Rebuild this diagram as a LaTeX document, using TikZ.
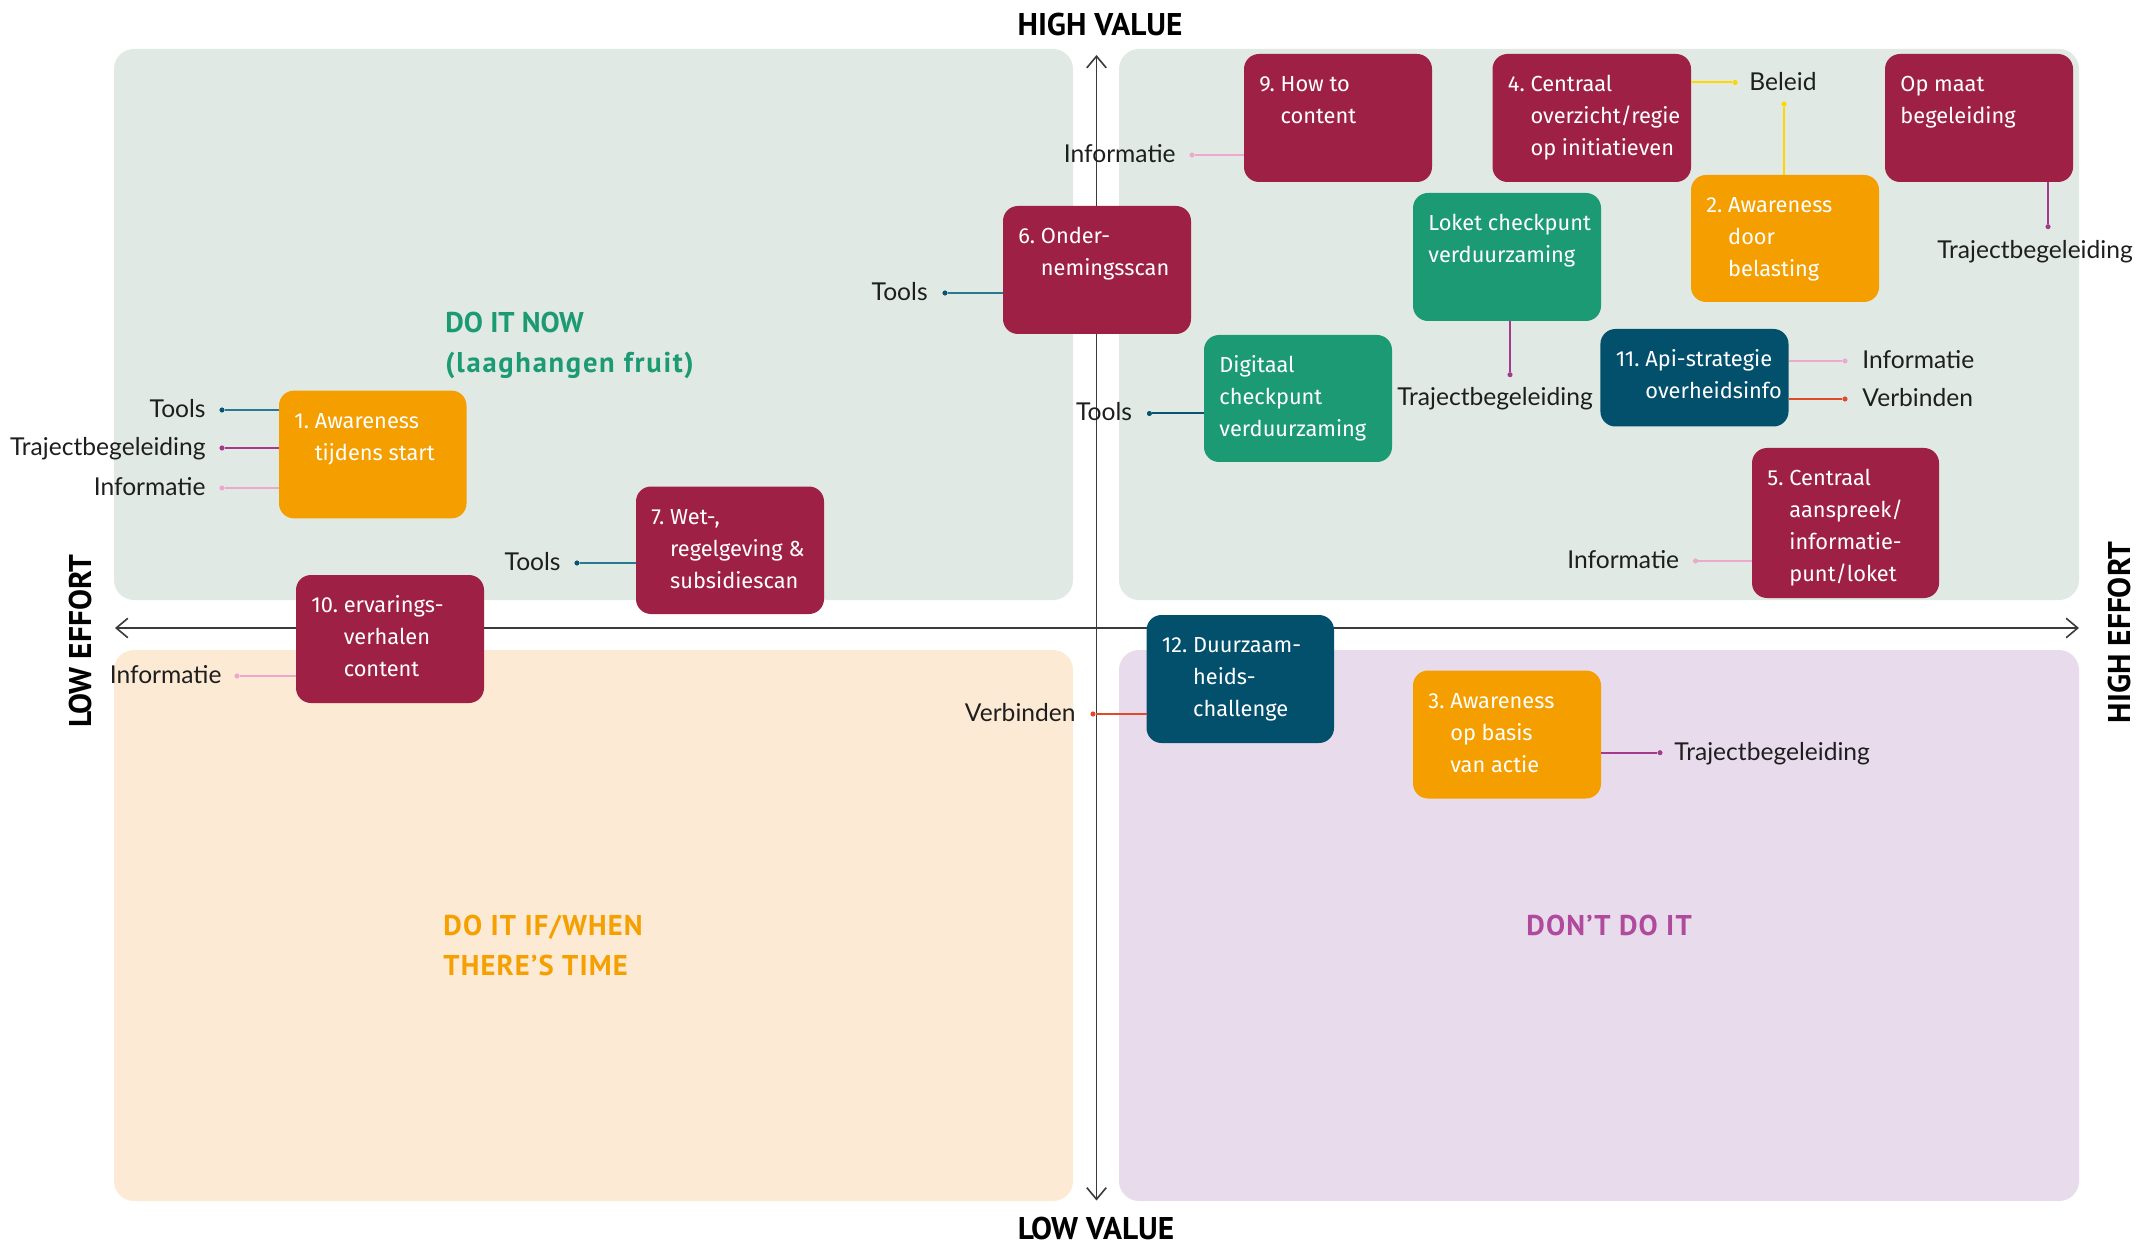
\documentclass[tikz,border=0pt]{standalone}
\usepackage{fontspec}
\usetikzlibrary{arrows.meta,calc}
\newfontfamily\boxfont{Fira Sans}
\newfontfamily\labfont{Lato}
\newfontfamily\headfont{PT Sans}
\newfontfamily\headwide[LetterSpace=6]{PT Sans}
\newfontfamily\headmid[LetterSpace=4]{PT Sans}
\definecolor{qgreen}{HTML}{E0E9E3}
\definecolor{qpeach}{HTML}{FDEAD5}
\definecolor{qlav}{HTML}{E8DCEC}
\definecolor{crimson}{HTML}{9E2145}
\definecolor{orng}{HTML}{F49E00}
\definecolor{grn}{HTML}{1B9A74}
\definecolor{teal}{HTML}{03506D}
\definecolor{tgreen}{HTML}{1B9A74}
\definecolor{torange}{HTML}{F5A000}
\definecolor{tpurple}{HTML}{B04A9C}
\definecolor{toolsc}{HTML}{2A7892}
\definecolor{toolsd}{HTML}{0B5470}
\definecolor{trajc}{HTML}{A43A8E}
\definecolor{infoc}{HTML}{EEA8CC}
\definecolor{verbc}{HTML}{E04A2A}
\definecolor{belc}{HTML}{FFD600}
\definecolor{labgray}{HTML}{1E1E1E}
\definecolor{axisgray}{HTML}{3A3A3A}
\newcommand\mkbox[6]{\node[tbox, fill=#6, minimum width={(#4-#2)*0.5pt}, minimum height={(#5-#3)*0.5pt}] (#1) at (#2,#3) {};}
\newcommand\btx[3]{\node[btxt] (#1) at ($(#2.north west)+(15,37.5)$) {#3};}
\tikzset{
  quad/.style={rounded corners=10pt},
  tbox/.style={rounded corners=7.5pt, draw=none, inner sep=0pt, outer sep=0pt, anchor=north west},
  btxt/.style={text=white, font=\boxfont\fontsize{10.9}{16}\selectfont, anchor=base west, inner sep=0pt},
  lab/.style={font=\labfont\fontsize{12.3}{15}\selectfont, text=labgray, inner sep=0pt},
  dotn/.style={circle, inner sep=0pt, minimum size=2.4pt},
  conn/.style={line width=1pt},
  axisl/.style={line width=0.8pt, draw=axisgray, {Straight Barb[length=5.8pt,width=9.7pt]}-{Straight Barb[length=5.8pt,width=9.7pt]}},
  axtitle/.style={font=\headfont\bfseries\fontsize{15.7}{18}\selectfont, text=black, inner sep=0pt, anchor=base},
  qtitle/.style={font=\headfont\bfseries\fontsize{14.3}{20}\selectfont, inner sep=0pt, anchor=base west},
}
\begin{document}
\begin{tikzpicture}[x=0.5pt,y=-0.5pt]
\useasboundingbox (0,0) rectangle (2155,1245);
\fill[white] (0,0) rectangle (2155,1245);
% quadrants
\fill[qgreen, quad] (114,49) rectangle (1073,600);
\fill[qgreen, quad] (1119,49) rectangle (2079,600);
\fill[qpeach, quad] (114,650) rectangle (1073,1201);
\fill[qlav, quad] (1119,650) rectangle (2079,1201);
% axes
\coordinate (vtop) at (1096.5,55);
\coordinate (vbot) at (1096.5,1200.5);
\coordinate (hleft) at (115,628);
\coordinate (hright) at (2079,628);
\draw[axisl] (vbot) -- (vtop);
\draw[axisl] (hleft) -- (hright);
% axis titles
\node[axtitle] (hv) at (1100,36) {HIGH VALUE};
\node[axtitle] (lv) at (1096,1239.5) {LOW VALUE};
\node[axtitle, rotate=90] (le) at (91.5,641) {LOW EFFORT};
\node[axtitle, rotate=90] (he) at (2130,632.5) {HIGH EFFORT};
% quadrant titles
\node[qtitle, text=tgreen] (qt1) at (445,333) {\begin{tabular}[t]{@{}l@{}}DO IT NOW\\{\headwide\bfseries(laaghangen fruit)}\end{tabular}};
\node[qtitle, text=torange] (qt3) at (443,935) {\headmid\bfseries\begin{tabular}[t]{@{}l@{}}DO IT IF/WHEN\\THERE’S TIME\end{tabular}};
\node[qtitle, text=tpurple] (qt4) at (1526,935) {\headmid\bfseries DON’T DO IT};
% boxes (shapes)
\mkbox{b1}{279}{390.6}{466.5}{518.4}{orng}
\mkbox{b6}{1003}{206}{1191}{334}{crimson}
\mkbox{b7}{636}{486.5}{824}{614}{crimson}
\mkbox{b10}{296}{575}{484}{703}{crimson}
\mkbox{b9}{1244}{54}{1432}{182}{crimson}
\mkbox{b4}{1492.5}{54}{1691}{182}{crimson}
\mkbox{bop}{1885}{54}{2073}{182}{crimson}
\mkbox{b2}{1691}{175}{1879}{302}{orng}
\mkbox{bl}{1413}{193}{1601}{321}{grn}
\mkbox{bd}{1204}{335}{1392}{462}{grn}
\mkbox{b11}{1600.4}{329}{1788.5}{426.5}{teal}
\mkbox{b5}{1752}{448}{1939}{598}{crimson}
\mkbox{b12}{1146.5}{615}{1334}{743}{teal}
\mkbox{b3}{1413}{670.5}{1601}{798.5}{orng}
% dots
\node[dotn, fill=toolsd] (d1a) at (222,410) {};
\node[dotn, fill=trajc] (d1b) at (222,448) {};
\node[dotn, fill=infoc] (d1c) at (222,488) {};
\node[dotn, fill=toolsd] (d6) at (945,293) {};
\node[dotn, fill=toolsd] (d7) at (577,563) {};
\node[dotn, fill=infoc] (d10) at (237,676) {};
\node[dotn, fill=infoc] (d9) at (1192,155) {};
\node[dotn, fill=toolsd] (dd) at (1149.4,413.5) {};
\node[dotn, fill=infoc] (d5) at (1695.5,561) {};
\node[dotn, fill=verbc] (d12) at (1093,714) {};
\node[dotn, fill=belc] (d4) at (1735,82.5) {};
\node[dotn, fill=belc] (d2) at (1784,104) {};
\node[dotn, fill=infoc] (d11a) at (1845,361) {};
\node[dotn, fill=verbc] (d11b) at (1845,399) {};
\node[dotn, fill=trajc] (d3) at (1660,752.7) {};
\node[dotn, fill=trajc] (dop) at (2048,226.7) {};
\node[dotn, fill=trajc] (dl) at (1510,374.7) {};
% connectors
\draw[conn, toolsc] (d1a) -- (d1a -| b1.west);
\draw[conn, trajc] (d1b) -- (d1b -| b1.west);
\draw[conn, infoc] (d1c) -- (d1c -| b1.west);
\draw[conn, toolsc] (d6) -- (d6 -| b6.west);
\draw[conn, toolsc] (d7) -- (d7 -| b7.west);
\draw[conn, infoc] (d10) -- (d10 -| b10.west);
\draw[conn, infoc] (d9) -- (d9 -| b9.west);
\draw[conn, toolsd] (dd) -- (dd -| bd.west);
\draw[conn, infoc] (d5) -- (d5 -| b5.west);
\draw[conn, verbc] (d12) -- (d12 -| b12.west);
\draw[conn, belc] (d4 -| b4.east) -- (d4);
\draw[conn, belc] (d2) -- (d2 |- b2.north);
\draw[conn, infoc] (d11a -| b11.east) -- (d11a);
\draw[conn, verbc] (d11b -| b11.east) -- (d11b);
\draw[conn, trajc] (d3 -| b3.east) -- (d3);
\draw[conn, trajc] (dop |- bop.south) -- (dop);
\draw[conn, trajc] (dl |- bl.south) -- (dl);
% redraw dots on top of lines
\foreach \d/\c in {d1a/toolsd,d1b/trajc,d1c/infoc,d6/toolsd,d7/toolsd,d10/infoc,d9/infoc,dd/toolsd,d5/infoc,d12/verbc,d4/belc,d2/belc,d11a/infoc,d11b/verbc,d3/trajc,dop/trajc,dl/trajc}
  \fill[\c] (\d) circle (1.2pt);
% box texts
\btx{t1}{b1}{\begin{tabular}[t]{@{}l@{\ }l@{}}1. & Awareness\\ & tijdens start\end{tabular}}
\btx{t6}{b6}{\begin{tabular}[t]{@{}l@{\ }l@{}}6. & Onder-\\ & nemingsscan\end{tabular}}
\btx{t7}{b7}{\begin{tabular}[t]{@{}l@{\ }l@{}}7. & Wet-,\\ & regelgeving \&\\ & subsidiescan\end{tabular}}
\btx{t10}{b10}{\begin{tabular}[t]{@{}l@{\ }l@{}}10. & ervarings-\\ & verhalen\\ & content\end{tabular}}
\btx{t9}{b9}{\begin{tabular}[t]{@{}l@{\ }l@{}}9. & How to\\ & content\end{tabular}}
\btx{t4}{b4}{\begin{tabular}[t]{@{}l@{\ }l@{}}4. & Centraal\\ & overzicht/regie\\ & op initiatieven\end{tabular}}
\btx{top}{bop}{\begin{tabular}[t]{@{}l@{}}Op maat\\begeleiding\end{tabular}}
\btx{t2}{b2}{\begin{tabular}[t]{@{}l@{\ }l@{}}2. & Awareness\\ & door\\ & belasting\end{tabular}}
\btx{tl}{bl}{\begin{tabular}[t]{@{}l@{}}Loket checkpunt\\verduurzaming\end{tabular}}
\btx{td}{bd}{\begin{tabular}[t]{@{}l@{}}Digitaal\\checkpunt\\verduurzaming\end{tabular}}
\btx{t11}{b11}{\begin{tabular}[t]{@{}l@{\ }l@{}}11. & Api-strategie\\ & overheidsinfo\end{tabular}}
\btx{t5}{b5}{\begin{tabular}[t]{@{}l@{\ }l@{}}5. & Centraal\\ & aanspreek/\\ & informatie-\\ & punt/loket\end{tabular}}
\btx{t12}{b12}{\begin{tabular}[t]{@{}l@{\ }l@{}}12. & Duurzaam-\\ & heids-\\ & challenge\end{tabular}}
\btx{t3}{b3}{\begin{tabular}[t]{@{}l@{\ }l@{}}3. & Awareness\\ & op basis\\ & van actie\end{tabular}}
% labels
\node[lab, anchor=base east] (l1a) at ($(d1a)+(-16,7.5)$) {Tools};
\node[lab, anchor=base east] (l1b) at ($(d1b)+(-16,7.5)$) {Trajectbegeleiding};
\node[lab, anchor=base east] (l1c) at ($(d1c)+(-16,7.5)$) {Informatie};
\node[lab, anchor=base east] (l6) at ($(d6)+(-17,7.5)$) {Tools};
\node[lab, anchor=base east] (l7) at ($(d7)+(-16,7.5)$) {Tools};
\node[lab, anchor=base east] (l10) at ($(d10)+(-15,7.5)$) {Informatie};
\node[lab, anchor=base east] (l9) at ($(d9)+(-16,7.5)$) {Informatie};
\node[lab, anchor=base east] (ld) at ($(dd)+(-17,7.5)$) {Tools};
\node[lab, anchor=base east] (l5) at ($(d5)+(-16,7.5)$) {Informatie};
\node[lab, anchor=base east] (l12) at ($(d12)+(-17,7.5)$) {Verbinden};
\node[lab, anchor=base west] (l4) at ($(d4)+(14,8.5)$) {Beleid};
\node[lab, anchor=base west] (l11a) at ($(d11a)+(17,7.5)$) {Informatie};
\node[lab, anchor=base west] (l11b) at ($(d11b)+(17,7.5)$) {Verbinden};
\node[lab, anchor=base west] (l3) at ($(d3)+(14,7.5)$) {Trajectbegeleiding};
\node[lab, anchor=base] (lop) at (2035,259) {Trajectbegeleiding};
\node[lab, anchor=base] (ll) at (1495,406) {Trajectbegeleiding};
\end{tikzpicture}
\end{document}
